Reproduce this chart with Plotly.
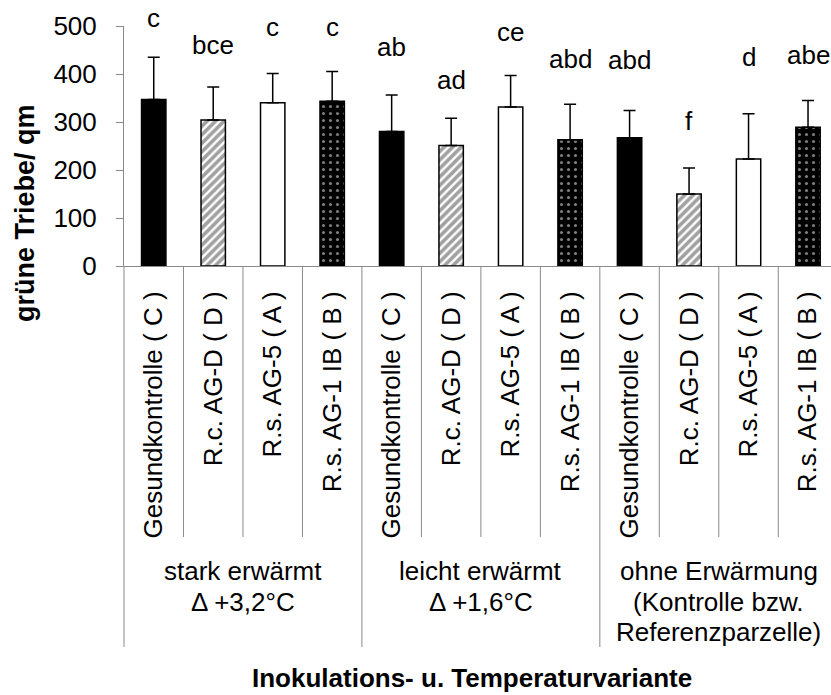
import plotly.graph_objects as go

# ---------------- data ----------------
variants = ["Gesundkontrolle ( C )", "R.c. AG-D ( D )", "R.s. AG-5 ( A )", "R.s. AG-1 IB ( B )"]
groups = [
    ["stark erwärmt", "Δ +3,2°C"],
    ["leicht erwärmt", "Δ +1,6°C"],
    ["ohne Erwärmung", "(Kontrolle bzw.", "Referenzparzelle)"],
]
values = [347, 304, 340, 343, 280, 251, 331, 263, 267, 150, 223, 289]
err_plus = [88, 69, 61, 62, 76, 57, 66, 74, 57, 54, 94, 56]
letters = ["c", "bce", "c", "c", "ab", "ad", "ce", "abd", "abd", "f", "d", "abe"]
letter_y = [516, 460, 497, 497, 456, 387, 487, 431, 430, 303, 435, 439]
y_ticks = [0, 100, 200, 300, 400, 500]
Y_MAX = 500

# ---------------- layout constants ----------------
W, H = 831, 695
L, R, T = 124, 0, 26
Y0PX = 266            # pixel row of value 0
PLOT_H = Y0PX - T
CAT_W = 59.48         # pixel width of one category
FONT = "Liberation Sans, Arial, sans-serif"
GRAY = "#8a8a8a"

n = len(values)
cats = variants * len(groups)
xpos = list(range(n))
xmax = -0.5 + (W - L - R) / CAT_W


def py(px):
    """pixel row -> paper y"""
    return (Y0PX - px) / PLOT_H


# bar styles cycle: C solid black, D hatched, A white, B black dotted
col_cycle = ["black", "white", "white", "black"]
shape_cycle = ["", "/", "", "."]
fg_cycle = ["black", "black", "black", "white"]
bg_cycle = ["black", "white", "white", "black"]
size_cycle = [8, 6, 8, 7]
sol_cycle = [0.3, 0.6, 0.3, 0.15]
k = len(variants)

fig = go.Figure(
    go.Bar(
        x=xpos,
        y=values,
        width=0.41,
        marker=dict(
            color=[col_cycle[i % k] for i in range(n)],
            line=dict(color="black", width=1.5),
            pattern=dict(
                shape=[shape_cycle[i % k] for i in range(n)],
                fgcolor=[fg_cycle[i % k] for i in range(n)],
                bgcolor=[bg_cycle[i % k] for i in range(n)],
                size=[size_cycle[i % k] for i in range(n)],
                solidity=[sol_cycle[i % k] for i in range(n)],
            ),
        ),
        error_y=dict(
            type="data", symmetric=False, array=err_plus, arrayminus=[0] * n,
            color="black", thickness=1.5, width=6,
        ),
        hoverinfo="skip",
    )
)

annotations = []
# significance letters
for i in range(n):
    annotations.append(dict(
        x=xpos[i], y=letter_y[i] / Y_MAX, xref="x", yref="paper", text=letters[i],
        showarrow=False, font=dict(family=FONT, size=26, color="black"),
        xanchor="center", yanchor="middle",
    ))

# group labels (one annotation per line)
line_rows = [571, 601.5, 632]
for g, lines in enumerate(groups):
    cx = g * k + (k - 1) / 2
    for j, txt in enumerate(lines):
        annotations.append(dict(
            x=cx, y=py(line_rows[j]), xref="x", yref="paper", text=txt,
            showarrow=False, font=dict(family=FONT, size=26, color="black"),
            xanchor="center", yanchor="middle",
        ))

# axis titles
annotations.append(dict(
    x=(472 - L) / (W - L - R), y=py(678), xref="paper", yref="paper",
    text="<b>Inokulations- u. Temperaturvariante</b>", showarrow=False,
    font=dict(family=FONT, size=26, color="black"), xanchor="center", yanchor="middle",
))
annotations.append(dict(
    x=-(L - 25) / (W - L - R), y=py(213), xref="paper", yref="paper",
    text="<b>grüne Triebe/ qm</b>", showarrow=False, textangle=-90,
    font=dict(family=FONT, size=27, color="black"), xanchor="center", yanchor="middle",
))

# separator lines below the axis
shapes = []
for b in range(n + 1):
    is_group = (b % k == 0)
    bottom = 647 if is_group else 537
    xb = b - 0.5
    shapes.append(dict(
        type="line", xref="paper", yref="paper",
        x0=(xb + 0.5) / (xmax + 0.5), x1=(xb + 0.5) / (xmax + 0.5),
        y0=0, y1=py(bottom),
        line=dict(color=GRAY, width=1),
    ))

fig.update_layout(
    width=W, height=H,
    margin=dict(l=L, r=R, t=T, b=H - Y0PX, pad=0),
    paper_bgcolor="white", plot_bgcolor="white",
    showlegend=False,
    annotations=annotations,
    shapes=shapes,
    font=dict(family=FONT, size=26, color="black"),
    xaxis=dict(
        range=[-0.5, xmax], tickmode="array", tickvals=xpos, ticktext=cats,
        tickangle=-90, ticks="", showline=True, linecolor=GRAY, linewidth=1,
        showgrid=False, zeroline=False, ticklabelstandoff=14,
        tickfont=dict(family=FONT, size=26, color="black"), fixedrange=True,
    ),
    yaxis=dict(
        range=[0, Y_MAX], tickmode="array", tickvals=y_ticks,
        ticks="outside", ticklen=7, tickcolor=GRAY, tickwidth=1,
        showline=True, linecolor=GRAY, linewidth=1, showgrid=False, zeroline=False,
        ticklabelstandoff=14,
        tickfont=dict(family=FONT, size=26, color="black"), fixedrange=True,
    ),
)

fig.write_html("out.html", config={"displayModeBar": False})
